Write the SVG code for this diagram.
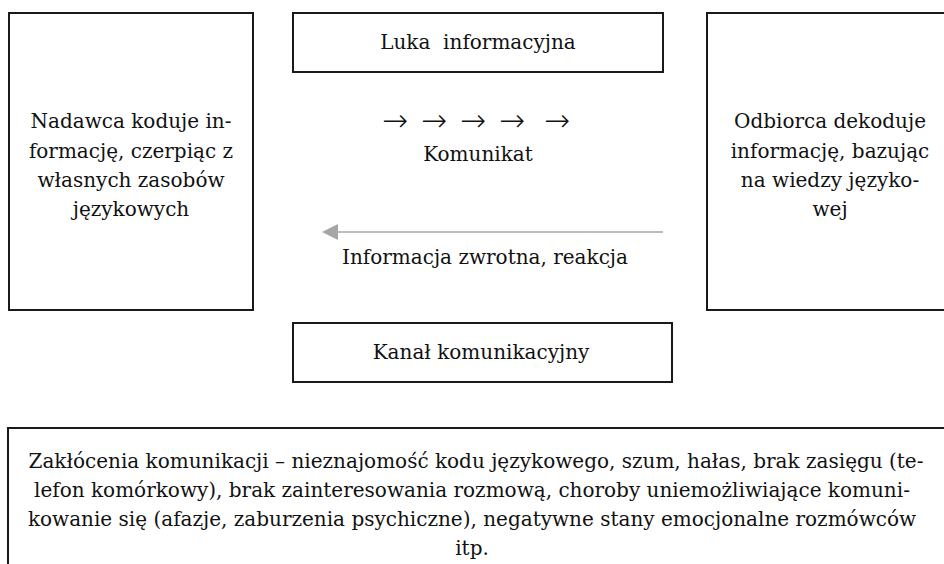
<svg xmlns="http://www.w3.org/2000/svg" width="944" height="564" viewBox="0 0 944 564">
<defs>
<style>
.box{fill:#fff;stroke:#1a1a1a;stroke-width:2}
text{font-family:"DejaVu Serif","Liberation Serif",serif;font-size:20px;fill:#111;text-anchor:middle}
.arr{font-family:"DejaVu Sans","Liberation Sans",sans-serif;font-size:31px;font-weight:200}
.fb{stroke:#a6a6a6;stroke-width:1.5;fill:none}
</style>
</defs>
<rect width="944" height="564" fill="#fff"/>
<g id="nadawca">
<rect class="box" x="9" y="13" width="244" height="297"/>
<text x="131" y="128">Nadawca koduje in-</text>
<text x="131" y="158">formację, czerpiąc z</text>
<text x="131" y="187">własnych zasobów</text>
<text x="131" y="216">językowych</text>
</g>
<g id="luka">
<rect class="box" x="293" y="13" width="370" height="59"/>
<text x="478" y="49" xml:space="preserve">Luka  informacyjna</text>
</g>
<g id="komunikat">
<text class="arr" x="395" y="131">→</text>
<text class="arr" x="434" y="131">→</text>
<text class="arr" x="473" y="131">→</text>
<text class="arr" x="512" y="131">→</text>
<text class="arr" x="557" y="131">→</text>
<text x="478" y="161">Komunikat</text>
</g>
<g id="odbiorca">
<rect class="box" x="707" y="13" width="250" height="297"/>
<text x="830" y="128">Odbiorca dekoduje</text>
<text x="830" y="158">informację, bazując</text>
<text x="830" y="187">na wiedzy języko-</text>
<text x="830" y="216">wej</text>
</g>
<g id="kanal">
<rect class="box" x="293" y="323" width="379" height="59"/>
<text x="481" y="359">Kanał komunikacyjny</text>
</g>
<g id="zaklocenia">
<rect class="box" x="8" y="428" width="950" height="150"/>
<text x="476" y="468">Zakłócenia komunikacji – nieznajomość kodu językowego, szum, hałas, brak zasięgu (te-</text>
<text x="472" y="497">lefon komórkowy), brak zainteresowania rozmową, choroby uniemożliwiające komuni-</text>
<text x="472" y="526">kowanie się (afazje, zaburzenia psychiczne), negatywne stany emocjonalne rozmówców</text>
<text x="472" y="555">itp.</text>
</g>
<g id="connectors">
<line class="fb" x1="663" y1="232" x2="338" y2="232"/>
<path d="M322,232 L338,224 L338,240 Z" fill="#a6a6a6"/>
<text x="485" y="264">Informacja zwrotna, reakcja</text>
</g>
</svg>
